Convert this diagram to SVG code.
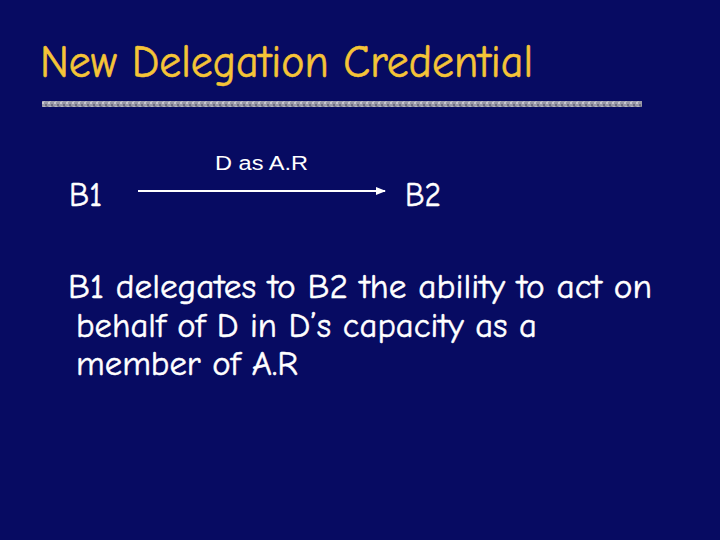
<svg xmlns="http://www.w3.org/2000/svg" width="720" height="540" viewBox="0 0 720 540">
<defs>
<style>
.comic{font-family:"Comic Sans MS","Comic Neue","DejaVu Sans",sans-serif;}
.title{fill:#F5C437;stroke:#F5C437;stroke-width:0.6;font-size:47px;}
.white{fill:#FFFFFF;stroke:#FFFFFF;stroke-width:0.5;font-size:35px;}
.lbl{font-family:"Liberation Sans",Arial,sans-serif;fill:#FFFFFF;font-size:20px;}
</style>
<pattern id="grain" width="6" height="6" patternUnits="userSpaceOnUse">
<rect width="6" height="6" fill="#9a9aa8"/>
<rect x="0" y="0" width="2" height="2" fill="#c8c8d0"/>
<rect x="3" y="2" width="2" height="2" fill="#6e6e80"/>
<rect x="1" y="4" width="2" height="2" fill="#b4b4bc"/>
<rect x="4" y="4" width="2" height="1" fill="#808090"/>
</pattern>
<marker id="ah" markerWidth="10" markerHeight="10" refX="9" refY="5" orient="auto" markerUnits="userSpaceOnUse">
<path d="M0,1 L10,5 L0,9 Z" fill="#FFFFFF"/>
</marker>
</defs>
<rect width="720" height="540" fill="#070B62"/>
<text class="comic title" x="40" y="77" textLength="493" lengthAdjust="spacingAndGlyphs">New Delegation Credential</text>
<rect x="42" y="101" width="600" height="6" fill="url(#grain)"/>
<g id="B1"><text class="comic white" x="69" y="206" textLength="33" lengthAdjust="spacingAndGlyphs">B1</text></g>
<g id="B2"><text class="comic white" x="405" y="206" textLength="36" lengthAdjust="spacingAndGlyphs">B2</text></g>
<g id="connectors">
<line x1="138" y1="191" x2="385" y2="191" stroke="#FFFFFF" stroke-width="2" marker-end="url(#ah)"/>
<text class="lbl" x="215" y="170" textLength="93" lengthAdjust="spacingAndGlyphs">D as A.R</text>
</g>
<g id="body">
<text class="comic white" x="68" y="298" textLength="584" lengthAdjust="spacingAndGlyphs">B1 delegates to B2 the ability to act on</text>
<text class="comic white" x="76" y="337" textLength="461" lengthAdjust="spacingAndGlyphs">behalf of D in D’s capacity as a</text>
<text class="comic white" x="76" y="375" textLength="222" lengthAdjust="spacingAndGlyphs">member of A.R</text>
</g>
</svg>
